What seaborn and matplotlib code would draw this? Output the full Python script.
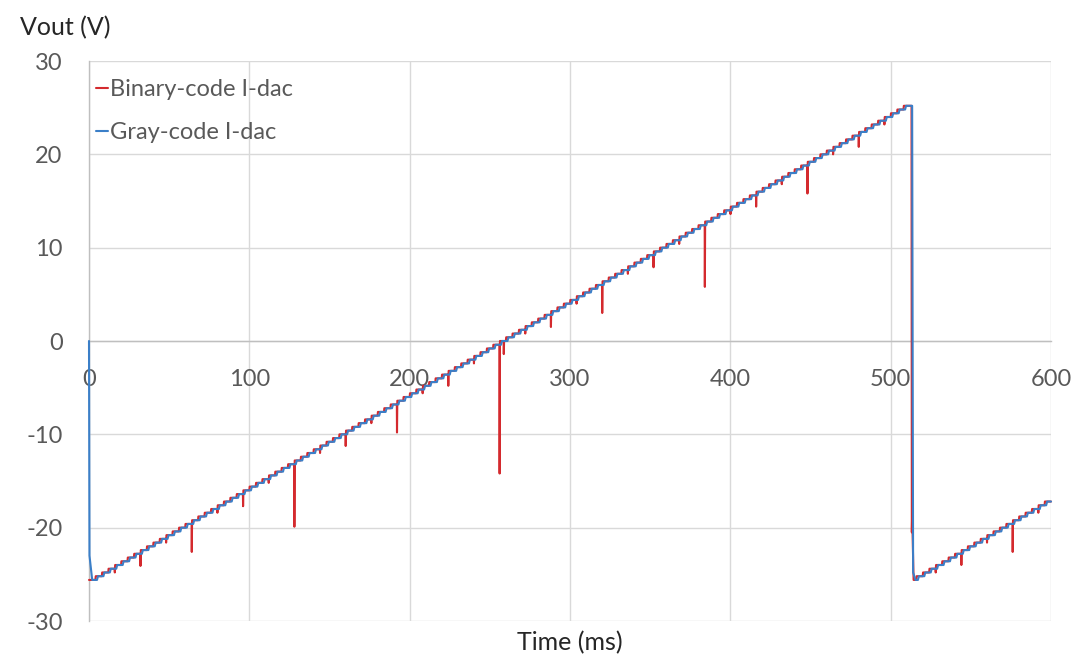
import numpy as np
import pandas as pd
import matplotlib
matplotlib.use("Agg")
import matplotlib.pyplot as plt
import seaborn as sns

# ---- DAC ramp description (times in ms, voltages in V) ----
STEP_MS = 4.0          # time per DAC code
LSB_V = 0.4            # output step per code
FLOOR_V = -25.6        # output at code 0
ramp_code0_ms = [1.0, 513.0]      # time at which code 0 is applied, per ramp
ramp_code_count = [128, 22]       # codes shown in each ramp
END_MS = 600.0

# Power-up and reset transients of each output
binary_start_ms = [0.0]
binary_start_v = [-25.6]
gray_start_ms = [0.0, 0.3, 2.0]
gray_start_v = [0.0, -23.0, -25.6]

binary_reset_ms = [513.0, 513.2, 513.4, 514.3]
binary_reset_v = [25.2, -20.5, -18.6, -25.6]
gray_reset_ms = [513.4, 514.0, 515.5]
gray_reset_v = [25.2, -24.8, -25.6]

# Binary-code glitches: time of the dip and lowest voltage reached
glitch_ms = [17, 33, 49, 65, 81, 97, 113, 129, 145, 161, 177, 193, 209, 225,
             241, 257, 258.6, 273, 289, 305, 321, 337, 353, 369, 385, 401, 417,
             433, 449, 465, 481, 497, 529, 545, 561, 577, 593]
glitch_low_v = [-24.8, -24.1, -21.6, -22.6, -18.4, -17.7, -15.2, -19.9, -12.0,
                -11.25, -8.8, -9.8, -5.6, -4.8, -2.4, -14.2, -1.4, 0.8, 1.5,
                4.0, 3.0, 7.2, 7.9, 10.4, 5.8, 13.6, 14.4, 16.8, 15.8, 20.0,
                20.8, 23.2, -24.8, -24.0, -21.6, -22.6, -18.4]

series_names = ["Binary-code I-dac", "Gray-code I-dac"]
series_colors = ["#d42a2e", "#3b7fc8"]


def ramp(t0, n_codes, t_first, t_last, lead, rise_ms, dips):
    """Staircase points of one ramp, with optional dips at code changes."""
    events = []
    for k in range(1, n_codes):
        r = t0 + STEP_MS * k - lead
        if t_first < r < t_last:
            events.append([r, FLOOR_V + LSB_V * k, None])
    for g, low in dips:
        if not (t_first < g < t_last):
            continue
        near = min(events, key=lambda e: abs(e[0] - g)) if events else None
        if near is not None and abs(near[0] - g) < 1.2:
            near[2] = low
        else:
            events.append([g, None, low])
    events.sort(key=lambda e: e[0])
    cur = FLOOR_V
    ts, vs = [t_first], [cur]
    for t, new, low in events:
        ts.append(t); vs.append(cur)
        if low is not None:
            after = new if new is not None else cur
            ts += [t + 0.1, t + 0.3]; vs += [low, after]
        else:
            ts.append(t + rise_ms); vs.append(new)
        if new is not None:
            cur = new
    ts.append(t_last); vs.append(cur)
    return ts, vs


def build(start_ms, start_v, reset_ms, reset_v, lead, rise_ms, dips):
    t1, v1 = ramp(ramp_code0_ms[0], ramp_code_count[0], start_ms[-1],
                  reset_ms[0], lead, rise_ms, dips)
    t2, v2 = ramp(ramp_code0_ms[1], ramp_code_count[1], reset_ms[-1],
                  END_MS, lead, rise_ms, dips)
    ts = list(start_ms[:-1]) + t1 + list(reset_ms[1:-1]) + t2
    vs = list(start_v[:-1]) + v1 + list(reset_v[1:-1]) + v2
    return ts, vs


dips = list(zip(glitch_ms, glitch_low_v))
bt, bv = build(binary_start_ms, binary_start_v, binary_reset_ms, binary_reset_v,
               lead=1.0, rise_ms=0.2, dips=dips)
gt, gv = build(gray_start_ms, gray_start_v, gray_reset_ms, gray_reset_v,
               lead=0.0, rise_ms=0.6, dips=[])

df = pd.concat([
    pd.DataFrame({"t": bt, "v": bv, "series": series_names[0]}),
    pd.DataFrame({"t": gt, "v": gv, "series": series_names[1]}),
], ignore_index=True)

sns.set_theme(style="white")
plt.rcParams["font.family"] = ["Lato", "DejaVu Sans"]
plt.rcParams["axes.unicode_minus"] = False

fig = plt.figure(figsize=(10.89, 6.64), dpi=100)
ax = fig.add_axes([89 / 1089, 1 - 621 / 664, (1051 - 89) / 1089, 560 / 664])

sns.lineplot(data=df, x="t", y="v", hue="series", hue_order=series_names,
             palette=series_colors, estimator=None, sort=False,
             linewidth=1.5, ax=ax)
for ln in ax.get_lines():
    ln.set_zorder(3)
    ln.set_clip_on(False)

ax.set_xlim(0, 600)
ax.set_ylim(-30, 30)
ax.set_xticks(np.arange(0, 601, 100))
ax.set_yticks(np.arange(-30, 31, 10))
ax.set_xlabel("")
ax.set_ylabel("")
ax.grid(True, color="#d9d9d9", linewidth=1.0)
ax.set_axisbelow(True)

for side in ("top", "right"):
    ax.spines[side].set_visible(False)
ax.spines["bottom"].set_position(("data", 0))
ax.spines["left"].set_position(("data", 0))
for side in ("bottom", "left"):
    ax.spines[side].set_color("#bfbfbf")
    ax.spines[side].set_linewidth(1.0)
    ax.spines[side].set_zorder(1.5)

ax.tick_params(axis="x", length=0, pad=20, labelsize=17, labelcolor="#595959")
ax.tick_params(axis="y", length=0, pad=19, labelsize=17, labelcolor="#595959")

handles, labels = ax.get_legend_handles_labels()
leg = ax.legend(handles, labels, loc="upper left",
                bbox_to_anchor=(96 / 1089, 1 - 79 / 664),
                bbox_transform=fig.transFigure, frameon=False,
                handlelength=0.5, handletextpad=0.1, labelspacing=0.95,
                borderaxespad=0, borderpad=0, fontsize=17)
for txt in leg.get_texts():
    txt.set_color("#595959")
for ln in leg.get_lines():
    ln.set_linewidth(1.5)

fig.text(20 / 1089, 1 - 28 / 664, "Vout (V)", ha="left", va="center",
         fontsize=18, color="#262626")
fig.text(570 / 1089, 1 - 643 / 664, "Time (ms)", ha="center", va="center",
         fontsize=18, color="#262626")

fig.savefig("out.png", dpi=100)
